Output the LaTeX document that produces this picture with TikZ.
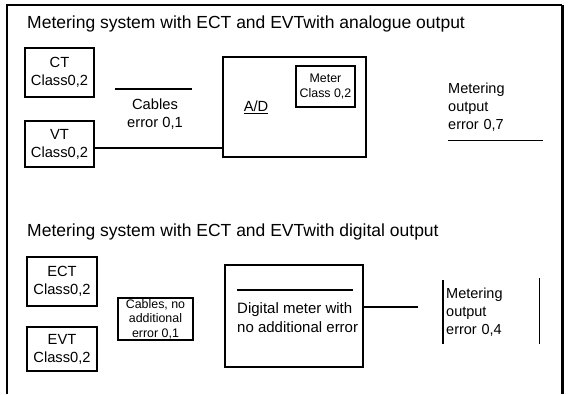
\documentclass[tikz,border=0pt]{standalone}
\usepackage{fontspec}
\setmainfont{Liberation Sans}
\usepackage{tikz}
\usetikzlibrary{positioning,calc}

\begin{document}
\begin{tikzpicture}[x=1pt, y=-1pt,
    title/.style={anchor=west, inner sep=0pt, font=\fontsize{17.5}{21}\selectfont},
    unit/.style={rectangle, draw, line width=2.6pt, align=center,
                 inner sep=0pt, font=\fontsize{14.7}{18}\selectfont},
    small/.style={rectangle, draw, line width=1.3pt, align=center,
                  inner sep=0pt, font=\fontsize{12.4}{14.5}\selectfont},
    txt/.style={inner sep=0pt, align=center, font=\fontsize{14.7}{18}\selectfont},
    outp/.style={inner xsep=3pt, inner ysep=0pt, align=left, anchor=north west,
                 text width=90pt, font=\fontsize{14.5}{18}\selectfont},
    wire/.style={line width=1.1pt},
  ]
  \useasboundingbox (0,0) rectangle (569,394);

  %% frame (open at the bottom)
  \draw[line width=1.4pt] (7,394) -- (7,5) -- (562,5);
  \draw[line width=3pt] (562,5) -- (562,394);

  %% TOP -- analogue output
  \node[title] (title1) at (27,24) {Metering system with ECT and EVTwith analogue output};

  \node[unit, minimum width=69pt, minimum height=49pt] (ct) at (59.5,72.5) {CT\\Class0,2};
  \node[unit, minimum width=69pt, minimum height=46pt] (vt) at (59.5,144) {VT\\Class0,2};

  \node[txt] (cab1) at (155,114) {Cables\\error 0,1};
  \draw[line width=1.6pt] (115,89) coordinate (c1a) -- (192,89);

  \node[unit, minimum width=143pt, minimum height=100pt] (ad) at (294.5,107) {};
  \node[txt] (adlbl) at (256,107) {\underline{A/D}};
  \node[small, minimum width=59pt, minimum height=41pt] (meter) at (325.5,86.5) {Meter\\Class 0,2};

  \draw[wire] ([yshift=-4pt]vt.east) -- ([yshift=-4pt]vt.east -| ad.west);

  \node[outp, inner xsep=0pt, text width=95pt, inner ysep=9pt] (out1) at (448,74)
    {Metering\\output\\error 0,7};
  \draw[line width=1.3pt] (out1.south west) -- (out1.south east);

  %% BOTTOM -- digital output
  \node[title] (title2) at (27,232) {Metering system with ECT and EVTwith digital output};

  \node[unit, minimum width=70pt, minimum height=49pt] (ect) at (62,281.5) {ECT\\Class0,2};
  \node[unit, minimum width=70pt, minimum height=44pt] (evt) at (62,349) {EVT\\Class0,2};

  \node[small, minimum width=75pt, minimum height=42pt] (cab2) at (155.5,319)
    {Cables, no\\additional\\error 0,1};

  \node[unit, minimum width=138pt, minimum height=102pt] (dig) at (294,316) {};
  \node[anchor=north west, inner sep=0pt, align=left,
        font=\fontsize{15}{19}\selectfont] (diglbl) at (237,302)
    {Digital meter with\\no additional error};
  \draw[wire] (237,290) -- (353,290);

  \coordinate (dend) at (418,307);
  \draw[wire] (dend -| dig.east) -- (dend);

  \node[outp, minimum height=64pt] (out2) at (443,280) {Metering\\output\\error 0,4};
  \draw[wire] (out2.north west) -- (out2.south west);
  \draw[wire] ([yshift=2pt]out2.north east) -- (out2.south east);

\end{tikzpicture}
\end{document}
